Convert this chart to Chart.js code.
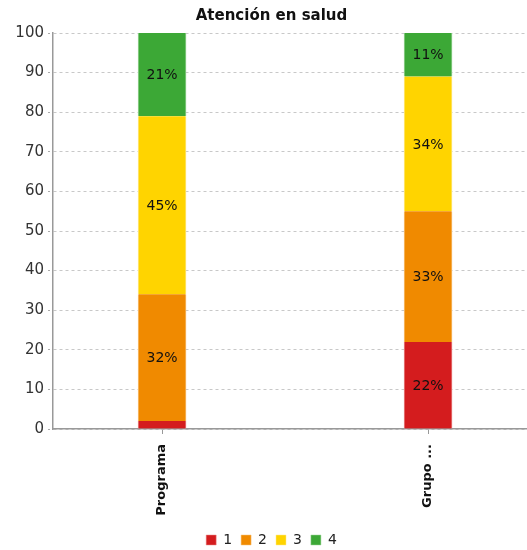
<!DOCTYPE html>
<html>
<head>
<meta charset="utf-8">
<script src="https://cdn.jsdelivr.net/npm/chart.js@4.4.1/dist/chart.umd.min.js"></script>
<style>
html,body{margin:0;padding:0;background:#fff;}
#wrap{width:527px;height:550px;position:relative;}
</style>
</head>
<body>
<div id="wrap"><canvas id="c"></canvas></div>
<script>
const categories = ['Programa', 'Grupo ...'];
const seriesNames = ['1', '2', '3', '4'];
const series1 = [2, 22];
const series2 = [32, 33];
const series3 = [45, 34];
const series4 = [21, 11];
const yTicks = [0, 10, 20, 30, 40, 50, 60, 70, 80, 90, 100];
const chartTitle = 'Atención en salud';

const colors = ['#d41c1e', '#f08a00', '#ffd400', '#3ca836'];
const borders = ['#e88a8a', '#f7c27a', '#ffe98a', '#9dd49a'];
const allSeries = [series1, series2, series3, series4];

const datasets = allSeries.map((s, i) => ({
  label: seriesNames[i],
  data: s.map((v, j) => ({x: j, y: v})),
  backgroundColor: colors[i],
  borderColor: borders[i],
  borderWidth: {left: 1, right: 1, top: 0, bottom: 0},
  barThickness: 48,
  borderSkipped: false
}));

const labelPlugin = {
  id: 'segLabels',
  afterDatasetsDraw(chart) {
    const ctx = chart.ctx;
    ctx.save();
    ctx.font = '14px "DejaVu Sans"';
    ctx.fillStyle = '#111';
    ctx.textAlign = 'center';
    ctx.textBaseline = 'middle';
    chart.data.datasets.forEach((ds, i) => {
      const meta = chart.getDatasetMeta(i);
      meta.data.forEach((el, j) => {
        const v = ds.data[j].y;
        if (v < 5) return;
        const cy = (el.y + el.base) / 2;
        ctx.fillText(v + '%', el.x, cy + 1);
      });
    });
    ctx.restore();
  }
};

new Chart(document.getElementById('c'), {
  type: 'bar',
  data: {datasets},
  plugins: [labelPlugin],
  options: {
    responsive: true,
    maintainAspectRatio: false,
    animation: false,
    layout: {padding: {left: 16, right: 0, top: 0, bottom: -7}},
    plugins: {
      title: {
        display: true,
        text: chartTitle,
        color: '#111',
        font: {family: '"DejaVu Sans"', size: 15, weight: 'bold'},
        padding: {top: 7, bottom: 8}
      },
      legend: {
        position: 'bottom',
        labels: {
          boxWidth: 10,
          boxHeight: 10,
          padding: 9,
          color: '#222',
          font: {family: '"DejaVu Sans"', size: 14}
        }
      },
      tooltip: {enabled: false}
    },
    scales: {
      x: {
        type: 'linear',
        stacked: true,
        offset: false,
        min: -0.41,
        max: 1.372,
        afterBuildTicks(scale) { scale.ticks = categories.map((c, i) => ({value: i})); },
        afterFit(scale) { scale.height = 95; },
        ticks: {
          minRotation: 90,
          maxRotation: 90,
          autoSkip: false,
          padding: 10,
          color: '#111',
          font: {family: '"DejaVu Sans"', size: 13, weight: 'bold'},
          callback: (v) => categories[v] !== undefined ? categories[v] : ''
        },
        grid: {display: true, offset: false, drawOnChartArea: false, drawTicks: true, tickLength: 5, color: '#999'},
        border: {display: true, color: '#999', width: 1.5}
      },
      y: {
        stacked: true,
        min: 0,
        max: 100,
        afterBuildTicks(scale) { scale.ticks = yTicks.map(v => ({value: v})); },
        afterFit(scale) { scale.width = 37; },
        ticks: {
          color: '#333',
          padding: 4,
          font: {family: '"DejaVu Sans"', size: 15}
        },
        grid: {color: '#c8c8c8', tickColor: '#aaa', tickLength: 5, tickBorderDash: [2, 2]},
        border: {display: true, color: '#999', width: 1.5, dash: [3, 3]}
      }
    }
  }
});
</script>
</body>
</html>
